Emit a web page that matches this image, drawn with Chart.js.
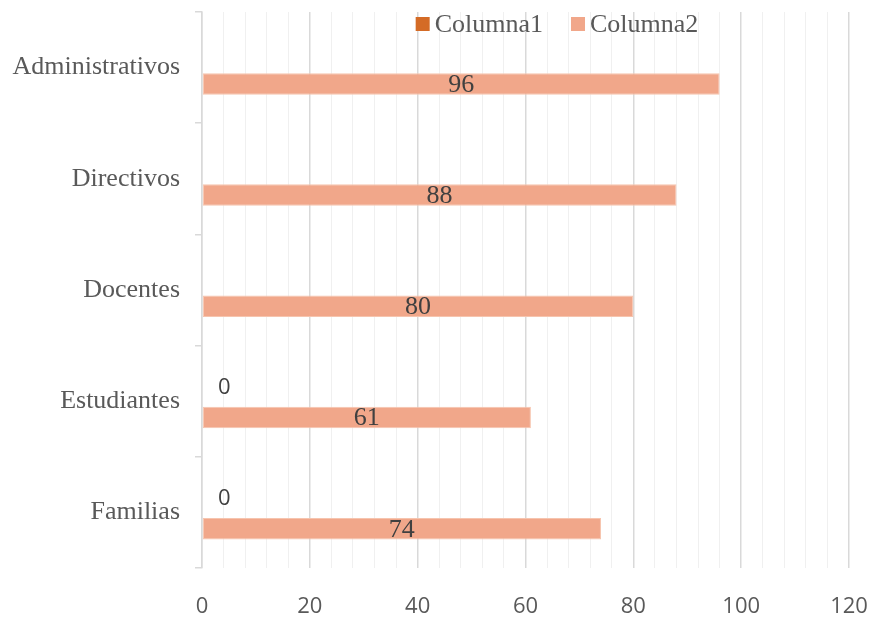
<!DOCTYPE html>
<html>
<head>
<meta charset="utf-8">
<script src="https://cdn.jsdelivr.net/npm/chart.js@4"></script>
<style>
html,body{margin:0;padding:0;background:#fff;}
#wrap{width:872px;height:618px;}
</style>
</head>
<body>
<div id="wrap"><canvas id="c" width="872" height="618"></canvas></div>
<script>
const categories = ['Administrativos', 'Directivos', 'Docentes', 'Estudiantes', 'Familias'];
const seriesNames = ['Columna1', 'Columna2'];
const columna1 = [null, null, null, 0, 0];
const columna2 = [96, 88, 80, 61, 74];
const xMin = 0, xMax = 120, xMajor = 20, xMinor = 4;

const colors = ['#D46B26', '#F1A78A'];
const serif = "'Liberation Serif', 'Times New Roman', serif";
const sans = "'Open Sans', 'Liberation Sans', sans-serif";

const labelPlugin = {
  id: 'labels',
  afterDatasetsDraw(chart) {
    const ctx = chart.ctx;
    ctx.save();
    chart.data.datasets.forEach((ds, di) => {
      const meta = chart.getDatasetMeta(di);
      meta.data.forEach((el, i) => {
        const v = ds.data[i];
        if (v === null || v === undefined) return;
        ctx.fillStyle = '#404040';
        ctx.textBaseline = 'middle';
        if (di === 1) {
          ctx.font = '26px ' + serif;
          ctx.textAlign = 'center';
          ctx.fillText(String(v), (el.x + el.base) / 2, el.y + 1);
        } else {
          ctx.font = '22px ' + sans;
          ctx.textAlign = 'left';
          ctx.fillText(String(v), el.x + 16, el.y + 3);
        }
      });
    });
    ctx.restore();
  }
};

const legendPlugin = {
  id: 'customLegend',
  afterDraw(chart) {
    const ctx = chart.ctx;
    ctx.save();
    ctx.font = '26px ' + serif;
    const box = 14, gapText = 5, gapItem = 28;
    const widths = chart.data.datasets.map(d => ctx.measureText(d.label).width);
    let total = 0;
    widths.forEach((w, i) => { total += box + gapText + w + (i < widths.length - 1 ? gapItem : 0); });
    let x = 557 - total / 2;
    const y = 24;
    chart.data.datasets.forEach((d, i) => {
      ctx.fillStyle = d.backgroundColor;
      ctx.fillRect(x, y - box / 2, box, box);
      x += box + gapText;
      ctx.fillStyle = '#595959';
      ctx.textAlign = 'left';
      ctx.textBaseline = 'middle';
      ctx.fillText(d.label, x, y + 1);
      x += widths[i] + gapItem;
    });
    ctx.restore();
  }
};

new Chart(document.getElementById('c'), {
  type: 'bar',
  data: {
    labels: categories,
    datasets: [
      { label: seriesNames[0], data: columna1, backgroundColor: colors[0] },
      { label: seriesNames[1], data: columna2, backgroundColor: colors[1], borderColor: '#F6C4AE', borderWidth: 1, borderSkipped: false }
    ]
  },
  options: {
    indexAxis: 'y',
    responsive: false,
    animation: false,
    devicePixelRatio: 1,
    categoryPercentage: 0.586,
    barPercentage: 0.66,
    layout: { padding: { top: 12, right: 23, left: 0, bottom: 0 } },
    plugins: { legend: { display: false }, tooltip: { enabled: false } },
    scales: {
      x: {
        min: xMin, max: xMax,
        afterFit(s) { s.height = 50; s.paddingLeft = 0; s.paddingRight = 0; },
        border: { display: false },
        grid: {
          drawTicks: false,
          color: c => (c.tick && c.tick.value % xMajor === 0) ? '#D9D9D9' : '#F0F0F0',
          lineWidth: c => (c.tick && c.tick.value % xMajor === 0) ? 1.5 : 1
        },
        ticks: {
          stepSize: xMinor,
          autoSkip: false,
          maxRotation: 0,
          padding: 26,
          color: '#595959',
          font: { family: sans, size: 22 },
          callback: v => (v % xMajor === 0 ? String(v) : '')
        }
      },
      y: {
        afterFit(s) { s.width = 202; s.paddingTop = 0; s.paddingBottom = 0; },
        border: { display: true, color: '#D9D9D9', width: 1.5 },
        grid: { offset: true, drawOnChartArea: false, drawTicks: true, tickLength: 7, color: '#D9D9D9', lineWidth: 1.5 },
        ticks: {
          padding: 15,
          color: '#595959',
          font: { family: serif, size: 26 }
        }
      }
    }
  },
  plugins: [labelPlugin, legendPlugin]
});
</script>
</body>
</html>
